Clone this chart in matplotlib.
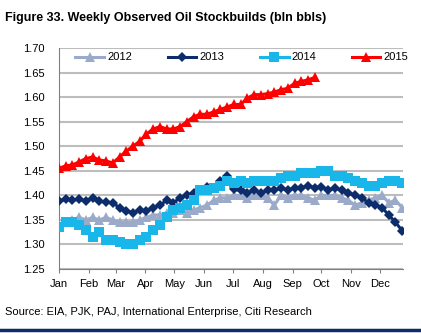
import numpy as np
import matplotlib.pyplot as plt

plt.rcParams['font.family'] = ['Liberation Sans', 'DejaVu Sans']

# ------------------------------------------------------------
# weekly stocks, bln bbls (week index from start of year)
# ------------------------------------------------------------

s2012 = [1.340, 1.345, 1.350, 1.355, 1.350, 1.355, 1.350, 1.355, 1.350, 1.345,
         1.345, 1.345, 1.350, 1.355, 1.360, 1.360, 1.365, 1.365, 1.370, 1.365,
         1.370, 1.375, 1.380, 1.390, 1.395, 1.395, 1.400, 1.400, 1.395, 1.400,
         1.400, 1.395, 1.380, 1.400, 1.395, 1.400, 1.400, 1.395, 1.390, 1.400,
         1.400, 1.400, 1.395, 1.390, 1.380, 1.385, 1.390, 1.395, 1.400, 1.385,
         1.390, 1.375]

s2013 = [1.388, 1.392, 1.390, 1.392, 1.388, 1.395, 1.388, 1.386, 1.385, 1.375,
         1.368, 1.365, 1.370, 1.368, 1.375, 1.380, 1.390, 1.385, 1.395, 1.400,
         1.405, 1.410, 1.418, 1.415, 1.430, 1.440, 1.412, 1.410, 1.405, 1.410,
         1.405, 1.410, 1.410, 1.415, 1.410, 1.415, 1.415, 1.420, 1.415, 1.418,
         1.410, 1.415, 1.410, 1.405, 1.400, 1.395, 1.385, 1.380, 1.375, 1.360,
         1.345, 1.328]

s2014 = [1.335, 1.345, 1.345, 1.340, 1.330, 1.315, 1.325, 1.310, 1.310, 1.305,
         1.300, 1.300, 1.310, 1.315, 1.330, 1.340, 1.355, 1.370, 1.375, 1.380,
         1.390, 1.410, 1.410, 1.415, 1.420, 1.430, 1.425, 1.430, 1.425, 1.430,
         1.430, 1.430, 1.430, 1.435, 1.440, 1.440, 1.445, 1.445, 1.445, 1.450,
         1.450, 1.440, 1.440, 1.435, 1.430, 1.425, 1.420, 1.420, 1.425, 1.430,
         1.430, 1.425]

s2015 = [1.455, 1.460, 1.462, 1.468, 1.475, 1.478, 1.472, 1.470, 1.466, 1.478,
         1.490, 1.500, 1.510, 1.525, 1.535, 1.540, 1.535, 1.535, 1.540, 1.550,
         1.560, 1.565, 1.565, 1.570, 1.575, 1.580, 1.585, 1.585, 1.598, 1.605,
         1.605, 1.607, 1.610, 1.615, 1.618, 1.628, 1.632, 1.635, 1.640]

months = ['Jan', 'Feb', 'Mar', 'Apr', 'May', 'Jun',
          'Jul', 'Aug', 'Sep', 'Oct', 'Nov', 'Dec']
month_start_day = [0, 31, 59, 90, 120, 151, 181, 212, 243, 273, 304, 334]

# ------------------------------------------------------------
# figure
# ------------------------------------------------------------

fig = plt.figure(figsize=(4.21, 3.33), dpi=100)
ax = fig.add_axes([0.140, 0.192, 0.817, 0.664])

series = [
    ('2012', s2012, '#9AAAC8', '^', 7.0),
    ('2013', s2013, '#0C2C6B', 'D', 5.5),
    ('2014', s2014, '#19B6EA', 's', 6.5),
    ('2015', s2015, '#FF0000', '^', 7.0),
]

for name, vals, col, mk, ms in series:
    x = np.arange(len(vals))
    ax.plot(x, vals, color=col, lw=2.2, marker=mk, ms=ms,
            markeredgewidth=0, label=name, zorder=3)

ax.set_ylim(1.25, 1.70)
ax.set_yticks(np.arange(1.25, 1.701, 0.05))
ax.set_yticklabels([f'{v:.2f}' for v in np.arange(1.25, 1.701, 0.05)])
ax.yaxis.grid(True, color='#BDBDBD', lw=1.5, zorder=0)
ax.set_axisbelow(True)

ax.set_xlim(0, 51.1)
ax.set_xticks([d / 7 for d in month_start_day])
ax.set_xticklabels(months)

for sp in ['top', 'right']:
    ax.spines[sp].set_visible(False)
ax.spines['left'].set_color('#808080')
ax.spines['bottom'].set_color('#808080')
ax.tick_params(axis='y', length=0, labelsize=8, pad=10)
ax.tick_params(axis='x', length=3, color='#808080', labelsize=8, pad=4)

ax.legend(loc='upper left', bbox_to_anchor=(0.035, 1.0), ncol=4,
          frameon=False, fontsize=8, handlelength=2.6, columnspacing=3.2,
          handletextpad=0.25, borderaxespad=0)

fig.text(0.012, 0.945, 'Figure 33. Weekly Observed Oil Stockbuilds (bln bbls)',
         fontsize=9.0, fontweight='bold', ha='left', va='center')
fig.text(0.012, 0.063, 'Source: EIA, PJK, PAJ, International Enterprise, Citi Research',
         fontsize=8, ha='left', va='center')

fig.add_artist(plt.Line2D([0, 1], [0.008, 0.008], color='#0C2C6B', lw=2.5))

fig.savefig('out.png', dpi=100)
